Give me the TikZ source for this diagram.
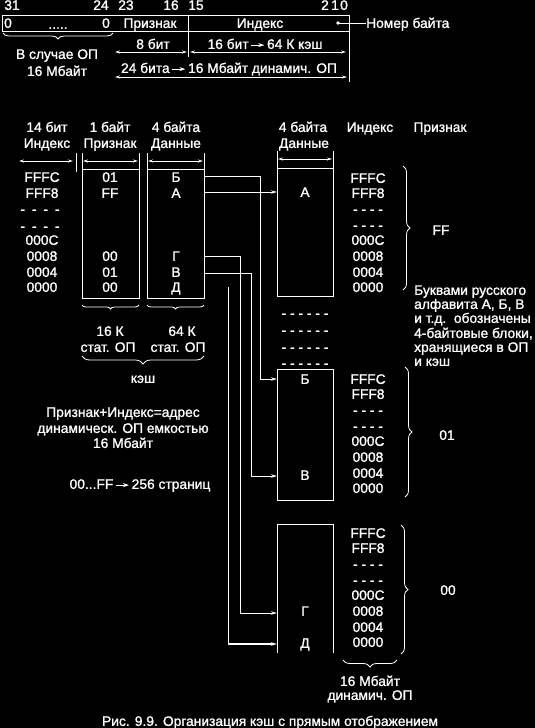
\documentclass[tikz,border=0pt]{standalone}
\usepackage{fontspec}
\setmainfont{Liberation Sans}[FakeBold=1.2]
\usetikzlibrary{arrows.meta,decorations.pathreplacing}
\newcommand{\txtarrow}{\,\tikz[baseline=-3.8pt,x=1pt,y=1pt]{\draw[white,line width=0.8pt,-{Stealth[length=6pt,width=4pt]}] (0,0) -- (13,0);}\,}
\begin{document}
\begin{tikzpicture}[x=1pt,y=-1pt,
  every node/.style={text=white,font=\fontsize{13.8}{14}\selectfont,inner sep=0pt,text height=9.8pt,text depth=0pt},
  ln/.style={draw=white,line width=0.8pt},
  ar/.style={ln,-{Stealth[length=6pt,width=3.5pt]}},
  dimln/.style={ln,{Stealth[length=5pt,width=3pt]}-{Stealth[length=5pt,width=3pt]}},
  brc/.style={ln,decorate,decoration={brace,amplitude=#1}},
  brc/.default=7pt]
\fill[black] (0,0) rectangle (535,728);
\useasboundingbox (0,0) rectangle (535,728);

% ---------- top register ----------
\node (b31) at (12,5) {31};
\node (b24) at (101,5) {24};
\node (b23) at (126,5) {23};
\node (b16) at (171,5) {16};
\node (b15) at (196,5) {15};
\node (b2) at (325,5) {2};
\node (b1) at (335,5) {1};
\node (b0) at (344,5) {0};
\draw[ln] (2,15) rectangle (349,31);
\draw[ln] (188,15) -- (188,57);
\draw[ln] (349,31) -- (349,82);
\node (r0a) at (8,23) {0};
\node (rdots) at (58,24) {.....};
\node (r0b) at (106,23) {0};
\node (rtag) at (150,23) {Признак};
\node (ridx) at (260,23) {Индекс};
\fill[white] (338,23) circle (1.8pt);
\coordinate (dot) at (338,23);
\node[anchor=west] (nb) at (366,23) {Номер байта};
\draw[ln] (dot) -- (nb.west);
\draw[brc=6pt] (113,33) -- (3,33);
\node (cs1) at (57,54) {В случае ОП};
\node (cs2) at (57,71) {16 Мбайт};
\node (b8) at (153,44) {8 бит};
\node (b16k) at (265,44) {16 бит\txtarrow 64 К кэш};
\draw[dimln] (115,52) -- (187,52);
\draw[dimln] (190,52) -- (346,52);
\node (b24m) at (229,68) {24 бита\txtarrow 16 Мбайт динамич. ОП};
\draw[dimln] (115,77) -- (347,77);

% ---------- cache ----------
\node (h1a) at (47,127) {14 бит};
\node (h1b) at (47,143) {Индекс};
\node (h2a) at (110,127) {1 байт};
\node (h2b) at (110,143) {Признак};
\node (h3a) at (176,127) {4 байта};
\node (h3b) at (176,143) {Данные};
\draw[dimln] (19,161) -- (73,161);
\draw[ln] (76,153) -- (76,172);
\draw[dimln] (83,161) -- (138,161);
\draw[dimln] (148,161) -- (203,161);
\draw[ln] (82,153) -- (82,298) -- (139,298) -- (139,153);
\draw[ln] (82,169) -- (139,169);
\draw[ln] (147,153) -- (147,298) -- (204,298) -- (204,153);
\draw[ln] (147,169) -- (204,169);

\node (ci1) at (42,177) {FFFC};
\node (ci2) at (42,193) {FFF8};
\node (ci3) at (40,209) {-\enspace-\enspace-\enspace-};
\node (ci4) at (40,226) {-\enspace-\enspace-\enspace-};
\node (ci5) at (42,240) {000C};
\node (ci6) at (42,256) {0008};
\node (ci7) at (42,272) {0004};
\node (ci8) at (42,287) {0000};
\node (ct1) at (110,177) {01};
\node (ct2) at (110,193) {FF};
\node (ct6) at (110,256) {00};
\node (ct7) at (110,272) {01};
\node (ct8) at (110,287) {00};
\node (cd1) at (176,177) {Б};
\node (cd2) at (176,193) {А};
\node (cd6) at (176,256) {Г};
\node (cd7) at (176,272) {В};
\node (cd8) at (176,287) {Д};

\draw[brc=4pt] (139,305) -- (82,305);
\draw[brc=4pt] (204,305) -- (147,305);
\node (k16) at (110,331) {16 К};
\node (k16b) at (108,347) {стат. ОП};
\node (k64) at (182,331) {64 К};
\node (k64b) at (178,347) {стат. ОП};
\draw[brc=8pt] (204,356) -- (82,356);
\node (kesh) at (143,378) {кэш};

\node (p1) at (123,412) {Признак+Индекс=адрес};
\node (p2) at (123,428) {динамическ. ОП емкостью};
\node (p3) at (123,443) {16 Мбайт};
\node (p4) at (140,484) {00...FF\txtarrow 256 страниц};

% ---------- main memory ----------
\node (m1a) at (303,127) {4 байта};
\node (m1b) at (304,143) {Данные};
\node (mi) at (370,127) {Индекс};
\node (mt) at (440,127) {Признак};
\draw[dimln] (278,159) -- (332,159);
\draw[ln] (277,151) -- (277,296) -- (333,296) -- (333,151);
\draw[ln] (277,168) -- (333,168);
\draw[ln] (277,369) rectangle (333,500);
\draw[ln] (277,653) -- (277,524) -- (333,524) -- (333,653);

\node (mA) at (305,192) {А};
\node (mB) at (305,379) {Б};
\node (mV) at (305,475) {В};
\node (mG) at (305,611) {Г};
\node (mD) at (305,643) {Д};

\foreach \n/\y in {1/0,2/201,3/355}{
  \node (ia\n) at (368,178+\y) {FFFC};
  \node (ib\n) at (368,193+\y) {FFF8};
  \node (ic\n) at (368,209+\y) {- - - -};
  \node (id\n) at (368,225+\y) {- - - -};
  \node (ie\n) at (368,240+\y) {000C};
  \node (if\n) at (368,256+\y) {0008};
  \node (ig\n) at (368,272+\y) {0004};
  \node (ih\n) at (368,287+\y) {0000};
}
\draw[brc] (403,166) -- (403,290);
\node (tFF) at (441,230) {FF};
\draw[brc] (405,367) -- (405,497);
\node (t01) at (447,435) {01};
\draw[brc] (401,525) -- (401,654);
\node (t00) at (448,590) {00};
\draw[brc] (397,660) -- (343,660);
\node (dm1) at (370,681) {16 Мбайт};
\node (dm2) at (370,695) {динамич. ОП};

\foreach \y [count=\i] in {313,330,347,363}{
  \node (dd\i) at (305,\y) {- - - - - -};
}

\node[anchor=west] (nt1) at (414,290) {Буквами русского};
\node[anchor=west] (nt2) at (414,304) {алфавита А, Б, В};
\node[anchor=west] (nt3) at (414,318) {и т.д.\ \ обозначены};
\node[anchor=west] (nt4) at (414,333) {4-байтовые блоки,};
\node[anchor=west] (nt5) at (414,347) {хранящиеся в ОП};
\node[anchor=west] (nt6) at (414,361) {и кэш};

% ---------- connectors ----------
\coordinate (sB) at (204,176);
\coordinate (sA) at (204,192);
\coordinate (sG) at (204,256);
\coordinate (sV) at (204,273);
\coordinate (sD) at (228,287);
\coordinate (eA) at (277,192);
\coordinate (eB) at (277,379);
\coordinate (eV) at (277,476);
\coordinate (eG) at (277,613);
\coordinate (eD) at (277,644);
\draw[ar] (sB) -- ++(56,0) |- (eB);
\draw[ar] (sA) -- (eA);
\draw[ar] (sG) -- ++(36,0) |- (eG);
\draw[ar] (sV) -- ++(47,0) |- (eV);
\draw[ln] (sD) -- (sD |- eD);
\draw[ar,line width=1.6pt] (sD |- eD) -- (eD);

\node (cap) at (270,721) {Рис. 9.9. Организация кэш с прямым отображением};
\end{tikzpicture}
\end{document}
